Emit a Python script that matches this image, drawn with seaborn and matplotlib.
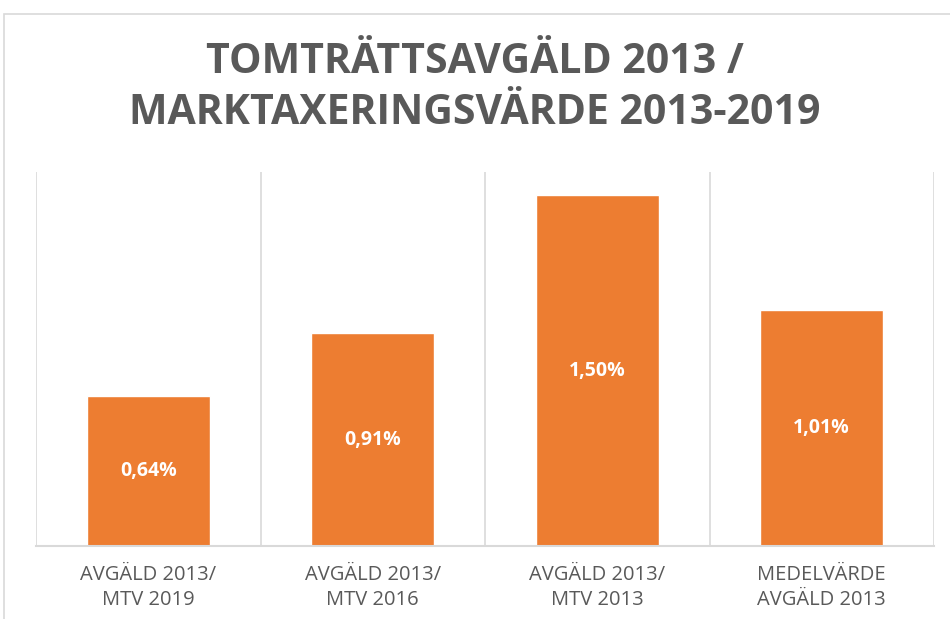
import matplotlib
matplotlib.use("Agg")
import matplotlib.pyplot as plt
import matplotlib.patches as mpatches
import pandas as pd
import seaborn as sns

categories = [
    "AVGÄLD 2013/\nMTV 2019",
    "AVGÄLD 2013/\nMTV 2016",
    "AVGÄLD 2013/\nMTV 2013",
    "MEDELVÄRDE\nAVGÄLD 2013",
]
values = [0.64, 0.91, 1.50, 1.01]
labels = ["0,64%", "0,91%", "1,50%", "1,01%"]
title = "TOMTRÄTTSAVGÄLD 2013 /\nMARKTAXERINGSVÄRDE 2013-2019"

df = pd.DataFrame({"Kategori": categories, "Varde": values})

sns.set_theme(style="white")
plt.rcParams["font.family"] = ["Open Sans", "DejaVu Sans"]

grey = "#595959"
orange = "#ED7D31"
line = "#D9D9D9"

fig = plt.figure(figsize=(9.5, 6.19), dpi=100)
ax = fig.add_axes([36 / 950, 1 - 546 / 619, (934 - 36) / 950, (546 - 172) / 619])

# chart frame
fig.patches.append(mpatches.Rectangle((4 / 950, -0.05), 1.0, 1 - 14 / 619 + 0.05,
                                      transform=fig.transFigure, fill=False,
                                      edgecolor=line, linewidth=1.2))

sns.barplot(data=df, x="Kategori", y="Varde", color=orange, width=0.55,
            saturation=1, ax=ax)

for i, (v, lab) in enumerate(zip(values, labels)):
    ax.text(i, v / 2, lab, ha="center", va="center", color="white",
            fontsize=14, fontweight="bold")

ax.set_ylim(0, 1.6)
ax.set_xlim(-0.5, 3.5)
ax.set_yticks([])
ax.set_xlabel("")
ax.set_ylabel("")
ax.set_xticks([x - 0.5 for x in range(5)], minor=True)
ax.grid(True, which="minor", axis="x", color=line, linewidth=1.2)
ax.tick_params(axis="x", which="both", length=0, pad=14)
ax.set_xticks(range(4))
ax.set_xticklabels(categories, color=grey, fontsize=14.5, linespacing=1.3)
ax.set_axisbelow(True)
for s in ["top", "left", "right"]:
    ax.spines[s].set_visible(False)
ax.spines["bottom"].set_color(line)
ax.spines["bottom"].set_linewidth(1.5)

fig.text(0.5, 1 - 88 / 619, title, ha="center", va="center", color=grey,
         fontsize=29.5, fontweight="bold", linespacing=1.3)

fig.savefig("out.png", dpi=100)
